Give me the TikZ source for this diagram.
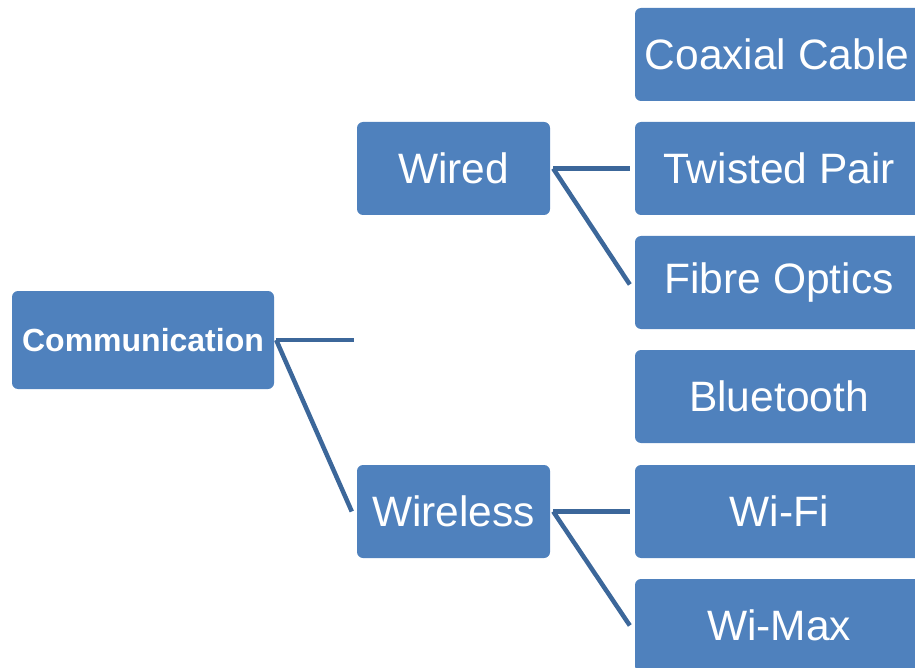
\documentclass[tikz,border=0pt]{standalone}
\usepackage{fontspec}
\setmainfont{Liberation Sans}
\usetikzlibrary{calc}
\definecolor{boxblue}{HTML}{4F81BD}
\definecolor{linkblue}{HTML}{3C679A}
\tikzset{
  box/.style={draw=none, fill=boxblue, rounded corners=6pt, text=white,
    inner sep=0pt, align=center, font=\fontsize{42.5}{42.5}\selectfont},
  midbox/.style={box, minimum width=193pt, minimum height=93pt},
  leafbox/.style={box, minimum width=288pt, minimum height=93pt},
  rootbox/.style={box, minimum width=262pt, minimum height=98pt,
    font=\fontsize{32}{32}\selectfont\bfseries},
  link/.style={draw=linkblue, line width=4.5pt}
}
\begin{document}
\begin{tikzpicture}[x=1pt, y=-1pt]
\useasboundingbox (0,0) rectangle (915,668);
\clip (0,0) rectangle (915,668);
\node[rootbox] (comm) at (143,340) {Communication};
\node[midbox] (wired) at (453.5,168.5) {Wired};
\node[midbox] (wireless) at (453.5,511.5) {Wireless};
\node[leafbox] (coax) at (779,54.5) {Coaxial Cable\hspace{4pt}};
\node[leafbox] (twisted) at (779,168.5) {Twisted Pair};
\node[leafbox] (fibre) at (779,282.5) {Fibre Optics};
\node[leafbox] (blue) at (779,396.5) {Bluetooth};
\node[leafbox] (wifi) at (779,511.5) {Wi-Fi};
\node[leafbox] (wimax) at (779,625.5) {Wi-Max};
\coordinate (cstart) at ($(comm.east)+(2,0)$);
\coordinate (cfree) at (354,340);
\coordinate (wdstart) at ($(wired.east)+(3,0)$);
\coordinate (wlstart) at ($(wireless.east)+(3,0)$);
\draw[link] (cstart) -- (cfree);
\draw[link] (cstart) -- ($(wireless.west)+(-5,0)$);
\draw[link] (wdstart) -- ($(twisted.west)+(-5,0)$);
\draw[link] (wdstart) -- ($(fibre.west)+(-5,2)$);
\draw[link] (wlstart) -- ($(wifi.west)+(-5,0)$);
\draw[link] (wlstart) -- ($(wimax.west)+(-5,0)$);
\end{tikzpicture}
\end{document}
